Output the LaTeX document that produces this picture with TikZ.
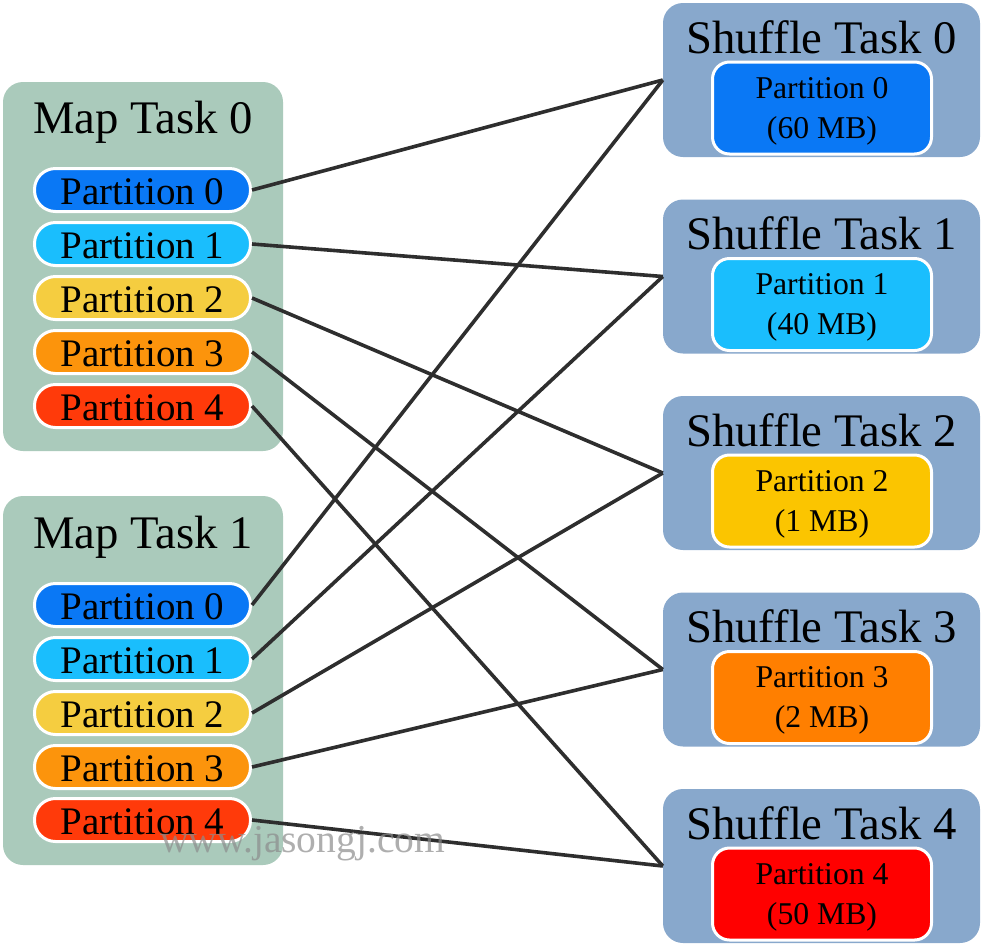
\documentclass[tikz,border=0pt]{standalone}
\usepackage{fontspec}
\setmainfont{Liberation Serif}
\definecolor{mapbg}{HTML}{AACABB}
\definecolor{shufbg}{HTML}{88A8CC}
\definecolor{pa}{HTML}{0A78F5}
\definecolor{pb}{HTML}{1ABEFD}
\definecolor{pcm}{HTML}{F5CD40}
\definecolor{pcs}{HTML}{FBC500}
\definecolor{pdm}{HTML}{FC940C}
\definecolor{pds}{HTML}{FF7F00}
\definecolor{pem}{HTML}{FF3A0A}
\definecolor{pes}{HTML}{FF0000}
\definecolor{linec}{HTML}{2E2E2E}
\begin{document}
\begin{tikzpicture}[x=1pt,y=-1pt,
  taskbox/.style={rounded corners=20pt, inner sep=0pt},
  mapbox/.style={taskbox, fill=mapbg, minimum width=280pt, minimum height=369pt},
  shufbox/.style={taskbox, fill=shufbg, minimum width=317pt, minimum height=154pt},
  title/.style={anchor=base, inner sep=0pt, font=\fontsize{46.7}{50}\selectfont},
  pill/.style={draw=white, line width=3pt, rounded corners=21pt, minimum width=216pt, minimum height=43pt,
    inner sep=0pt, text height=28pt, text depth=0pt, font=\fontsize{39}{42}\selectfont},
  inbox/.style={draw=white, line width=3pt, rounded corners=17pt, minimum width=219pt, minimum height=92pt, inner sep=0pt},
  intext/.style={anchor=base, inner sep=0pt, font=\fontsize{31.7}{34}\selectfont},
  link/.style={draw=linec, line width=3.6pt}
]
\useasboundingbox (0,0) rectangle (982,946);

% Map tasks
\node[mapbox] (m0) at (143,266.5) {};
\node[title] (m0t) at (143,133) {Map Task 0};
\node[mapbox] (m1) at (143,680.5) {};
\node[title] (m1t) at (143,548) {Map Task 1};

\node[pill, fill=pa]  (m0p0) at (142.5,190) {Partition 0};
\node[pill, fill=pb]  (m0p1) at (142.5,244) {Partition 1};
\node[pill, fill=pcm] (m0p2) at (142.5,298) {Partition 2};
\node[pill, fill=pdm] (m0p3) at (142.5,352) {Partition 3};
\node[pill, fill=pem] (m0p4) at (142.5,406) {Partition 4};

\node[pill, fill=pa]  (m1p0) at (142.5,605) {Partition 0};
\node[pill, fill=pb]  (m1p1) at (142.5,659) {Partition 1};
\node[pill, fill=pcm] (m1p2) at (142.5,713) {Partition 2};
\node[pill, fill=pdm] (m1p3) at (142.5,767) {Partition 3};
\node[pill, fill=pem] (m1p4) at (142.5,820) {Partition 4};

% Shuffle tasks
\node[shufbox] (s0) at (821.5,80) {};
\node[title] (s0t) at (821.5,53) {Shuffle Task 0};
\node[inbox, fill=pa] (s0b) at (822,108) {};
\node[intext] (s0a) at (822,98) {Partition 0};
\node[intext] (s0c) at (822,138) {(60 MB)};

\node[shufbox] (s1) at (821.5,276.5) {};
\node[title] (s1t) at (821.5,249.5) {Shuffle Task 1};
\node[inbox, fill=pb] (s1b) at (822,304.5) {};
\node[intext] (s1a) at (822,294.5) {Partition 1};
\node[intext] (s1c) at (822,334.5) {(40 MB)};

\node[shufbox] (s2) at (821.5,473) {};
\node[title] (s2t) at (821.5,446) {Shuffle Task 2};
\node[inbox, fill=pcs] (s2b) at (822,501) {};
\node[intext] (s2a) at (822,491) {Partition 2};
\node[intext] (s2c) at (822,531) {(1 MB)};

\node[shufbox] (s3) at (821.5,669.5) {};
\node[title] (s3t) at (821.5,642.5) {Shuffle Task 3};
\node[inbox, fill=pds] (s3b) at (822,697.5) {};
\node[intext] (s3a) at (822,687.5) {Partition 3};
\node[intext] (s3c) at (822,727.5) {(2 MB)};

\node[shufbox] (s4) at (821.5,866) {};
\node[title] (s4t) at (821.5,839) {Shuffle Task 4};
\node[inbox, fill=pes] (s4b) at (822,894) {};
\node[intext] (s4a) at (822,884) {Partition 4};
\node[intext] (s4c) at (822,924) {(50 MB)};

% connectors
\foreach \i in {0,...,4}{
  \draw[link] (m0p\i.east) -- (s\i.west);
  \draw[link] (m1p\i.east) -- (s\i.west);
}

% watermark
\node[anchor=base west, inner sep=0pt, text=black!45, opacity=0.7, font=\fontsize{39.5}{42}\selectfont] (wm) at (160,852) {www.jasongj.com};
\end{tikzpicture}
\end{document}
